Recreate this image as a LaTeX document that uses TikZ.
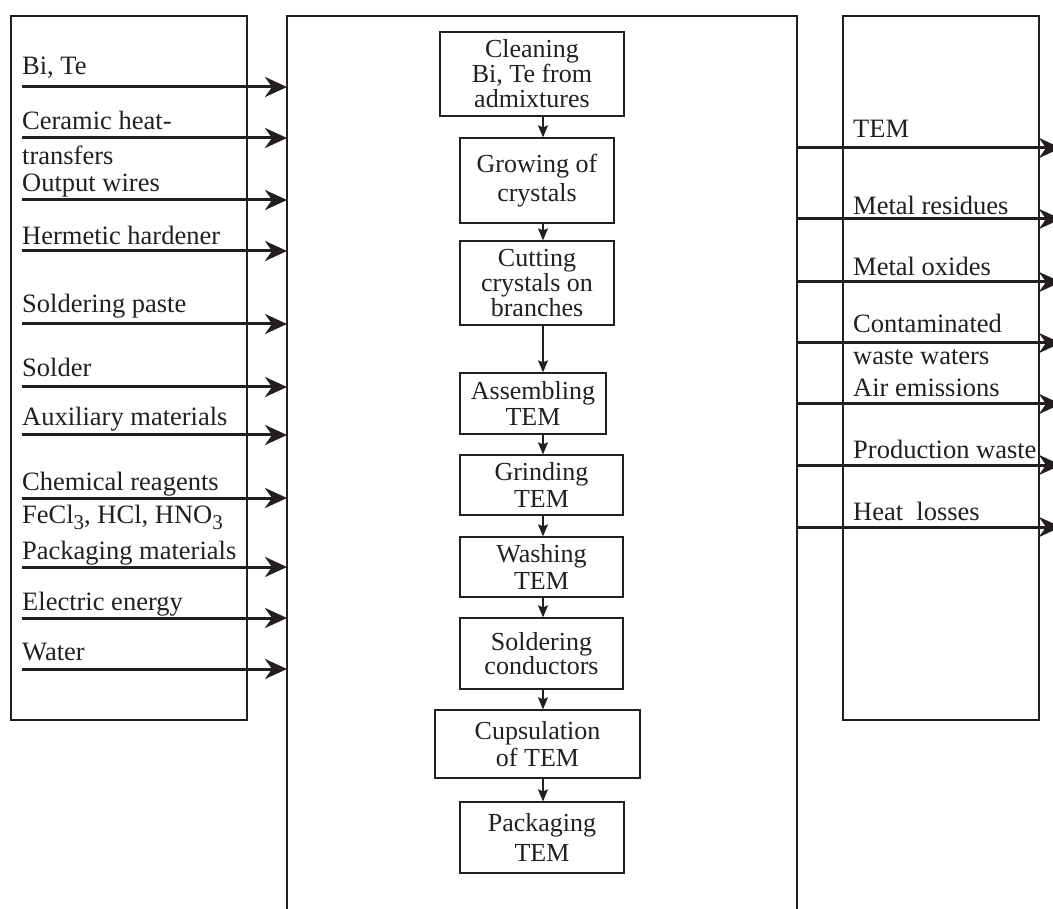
\documentclass[tikz,border=0pt]{standalone}
\usepackage{fontspec}
\setmainfont{Liberation Serif}
\usetikzlibrary{arrows.meta}
\definecolor{ink}{HTML}{231F20}
\newcommand\chemsub[1]{\raisebox{-6pt}{\fontsize{21}{21}\selectfont #1}}
\begin{document}
\begin{tikzpicture}[x=1pt,y=-1pt,
  every node/.style={text=ink},
  lbl/.style={anchor=base west,inner sep=0pt,font=\fontsize{26.5}{25}\selectfont},
  frame/.style={draw=ink,line width=1.3pt,inner sep=0pt},
  procbox/.style={draw=ink,line width=1.3pt,inner sep=0pt,align=center,font=\fontsize{26}{25}\selectfont},
  bigarrow/.style={draw=ink,line width=3pt,-{Stealth[length=22pt,width=20pt,inset=7pt]}},
  smallarrow/.style={draw=ink,line width=1.4pt,-{Stealth[length=12pt,width=10pt,inset=2pt]}}]
\useasboundingbox (0,0) rectangle (1053,909);
\clip (0,0) rectangle (1053,909);

% frames
\node[frame,minimum width=236pt,minimum height=704pt] (lbox) at (129,368) {};
\node[frame,minimum width=196pt,minimum height=704pt] (rbox) at (941,368) {};
\draw[ink,line width=1.3pt] (287,915) coordinate (cbl) -- (287,16) coordinate (ctl) -- (797,16) coordinate (ctr) -- (797,915) coordinate (cbr);

% process boxes
\node[procbox,minimum width=184pt,minimum height=84pt] (b1) at (532,74) {Cleaning\\Bi, Te from\\admixtures};
\node[procbox,minimum width=154pt,minimum height=85pt,font=\fontsize{26}{29}\selectfont] (b2) at (537,180.5) {Growing of\\crystals};
\node[procbox,minimum width=154pt,minimum height=84pt,font=\fontsize{26}{23}\selectfont] (b3) at (537,283) {Cutting\\crystals on\\branches};
\node[procbox,minimum width=146pt,minimum height=61pt,font=\fontsize{26}{26}\selectfont] (b4) at (533,403.5) {Assembling\\TEM};
\node[procbox,minimum width=163pt,minimum height=60pt,font=\fontsize{26}{27}\selectfont] (b5) at (541.5,485) {Grinding\\TEM};
\node[procbox,minimum width=163pt,minimum height=60pt,font=\fontsize{26}{27}\selectfont] (b6) at (541.5,567) {Washing\\TEM};
\node[procbox,minimum width=163pt,minimum height=71pt,font=\fontsize{26}{22}\selectfont] (b7) at (541.5,653.5) {Soldering\\conductors};
\node[procbox,minimum width=205pt,minimum height=68pt,font=\fontsize{26}{27}\selectfont] (b8) at (537.5,744) {Cupsulation\\of TEM};
\node[procbox,minimum width=164pt,minimum height=71pt,font=\fontsize{26}{30}\selectfont] (b9) at (542,837.5) {Packaging\\TEM};

\coordinate (ax) at (543,0);
\foreach \a/\b in {b1/b2,b2/b3,b3/b4,b4/b5,b5/b6,b6/b7,b7/b8,b8/b9}
  \draw[smallarrow] (\a.south -| ax) -- (\b.north -| ax);

% inputs
\foreach \n/\y in {1/87,2/138,3/200,4/251,5/324,6/387,7/435,8/498,9/567,10/618,11/669}{
  \coordinate (is\n) at (22,\y);
  \coordinate (ie\n) at (287,\y);
  \draw[bigarrow] (is\n) -- (ie\n);
}
\node[lbl] (l1) at (22,75) {Bi, Te};
\node[lbl] (l2a) at (22,130) {Ceramic heat-};
\node[lbl] (l2b) at (22,165) {transfers};
\node[lbl] (l3) at (22,192) {Output wires};
\node[lbl] (l4) at (22,245) {Hermetic hardener};
\node[lbl] (l5) at (22,313) {Soldering paste};
\node[lbl] (l6) at (22,377) {Solder};
\node[lbl] (l7) at (22,426) {Auxiliary materials};
\node[lbl] (l8a) at (22,490) {Chemical reagents};
\node[lbl] (l8b) at (22,523) {FeCl\chemsub{3}, HCl, HNO\chemsub{3}};
\node[lbl] (l9) at (22,559) {Packaging materials};
\node[lbl] (l10) at (22,610) {Electric energy};
\node[lbl] (l11) at (22,660) {Water};

% outputs
\foreach \n/\y in {1/148,2/219,3/282,4/343,5/404,6/465,7/527}{
  \coordinate (os\n) at (797,\y);
  \coordinate (oe\n) at (1061,\y);
  \draw[bigarrow] (os\n) -- (oe\n);
}
\node[lbl] (r1) at (853,138) {TEM};
\node[lbl] (r2) at (853,215) {Metal residues};
\node[lbl] (r3) at (853,276) {Metal oxides};
\node[lbl] (r4a) at (853,333) {Contaminated};
\node[lbl] (r4b) at (853,365) {waste waters};
\node[lbl] (r5) at (853,397) {Air emissions};
\node[lbl] (r6) at (853,458) {Production waste};
\node[lbl] (r7) at (853,520) {Heat\ \ losses};
\end{tikzpicture}
\end{document}
